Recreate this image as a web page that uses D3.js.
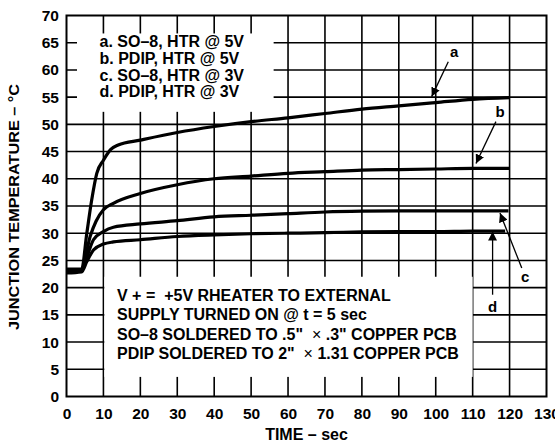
<!DOCTYPE html>
<html><head><meta charset="utf-8">
<script src="https://cdn.jsdelivr.net/npm/d3@7/dist/d3.min.js"></script>
<style>
body{margin:0;background:#fff;}
svg text{font-family:"Liberation Sans",Arial,sans-serif;font-weight:bold;fill:#000;}
</style></head>
<body><svg id="c" width="555" height="444"></svg>
<script>
// ---- data ----
const xTicks = [0,10,20,30,40,50,60,70,80,90,100,110,120,130];
const yTicks = [0,5,10,15,20,25,30,35,40,45,50,55,60,65,70];
const curveA = [[0,23.4],[4.1,23.4],[5.5,30],[6.8,36],[8.2,41],[10,43.4],[12,45.4],[14,46.2],[20,47.1],[30,48.5],[40,49.6],[50,50.5],[60,51.2],[70,52.0],[80,52.8],[90,53.4],[100,54.0],[110,54.6],[120,54.9]];
const curveB = [[0,23.2],[4.1,23.3],[6.4,29.4],[8,32.2],[10,34.3],[12.7,35.5],[20,37.3],[30,38.9],[40,40.0],[50,40.5],[60,41.0],[70,41.3],[80,41.6],[90,41.7],[100,41.8],[110,41.9],[120,41.9]];
const curveC = [[0,22.9],[4.1,23.1],[5.5,25.6],[7.3,28.8],[10,30.3],[12.7,31.1],[20,31.7],[30,32.3],[40,33.0],[50,33.3],[60,33.6],[70,33.9],[80,34.05],[90,34.1],[100,34.1],[110,34.1],[119.7,34.1]];
const curveD = [[0,22.7],[4.1,22.9],[5.5,24.8],[7.3,26.9],[10,28.0],[12.7,28.4],[20,28.8],[30,29.4],[40,29.7],[50,29.9],[60,30.0],[70,30.1],[80,30.25],[90,30.3],[100,30.3],[110,30.4],[118.8,30.4]];
const curveLabels = ["a","b","c","d"];
const labelPos = [[105.0,63.3],[117.4,52.3],[124.2,22.0],[115.4,16.6]];
const arrowFrom = [[103.4,61.5],[116.3,50.5],[123.3,23.6],[115.4,18.7]];
const arrowTo = [[98.9,55.1],[110.9,42.8],[117.4,33.7],[115.4,30.3]];
const legendLines = ["a. SO–8, HTR @ 5V","b. PDIP, HTR @ 5V","c. SO–8, HTR @ 3V","d. PDIP, HTR @ 3V"];
const noteLines = [["V + =  +5V RHEATER TO EXTERNAL"],["SUPPLY TURNED ON @ t = 5 sec"],["SO–8 SOLDERED TO .5\"  ","×"," .3\" COPPER PCB"],["PDIP SOLDERED TO 2\"  ","×"," 1.31 COPPER PCB"]];
const legendBox = {x0:2.6, x1:56.1, y0:52.3, y1:66.7};
const noteBox = {x0:10, x1:110, y0:3.6, y1:22.0};
const xTitle = "TIME – sec";
const yTitle = "JUNCTION TEMPERATURE – °C";

// ---- chart ----
const svg = d3.select("#c");
const x = d3.scaleLinear().domain([0,130]).range([66.5,546.5]);
const y = d3.scaleLinear().domain([0,70]).range([396.5,15.5]);

// grid
const g = svg.append("g");
g.selectAll(".vx").data(xTicks.slice(1,-1)).join("line")
  .attr("x1",d=>x(d)).attr("x2",d=>x(d)).attr("y1",y(0)).attr("y2",y(70))
  .attr("stroke","#000").attr("stroke-width",1.6);
g.selectAll(".hy").data(yTicks.slice(1,-1)).join("line")
  .attr("y1",d=>y(d)).attr("y2",d=>y(d)).attr("x1",x(0)).attr("x2",x(130))
  .attr("stroke","#000").attr("stroke-width",1.6);

// white boxes
[legendBox, noteBox].forEach(b=>{
  svg.append("rect").attr("x",x(b.x0)+0.9).attr("y",y(b.y1))
    .attr("width",x(b.x1)-x(b.x0)-0.9).attr("height",y(b.y0)-y(b.y1))
    .attr("fill","#fff");
});

// legend text
svg.append("g").selectAll("text").data(legendLines).join("text")
  .attr("x",99.5).attr("y",(d,i)=>47+i*16.8).attr("font-size","16px").text(d=>d);

// note text
const nt = svg.append("g").selectAll("text").data(noteLines).join("text")
  .attr("x",117).attr("y",(d,i)=>300.5+i*19.6).attr("font-size","16px").attr("xml:space","preserve");
nt.each(function(parts){
  const t = d3.select(this);
  parts.forEach(p=>{
    t.append("tspan").text(p).attr("font-weight", p==="×" ? "normal" : "bold");
  });
});

// curves
const line = d3.line().x(d=>x(d[0])).y(d=>y(d[1])).curve(d3.curveMonotoneX);
svg.append("g").selectAll("path").data([curveA,curveB,curveC,curveD]).join("path")
  .attr("d",line).attr("fill","none").attr("stroke","#000").attr("stroke-width",3.2)
  .attr("stroke-linejoin","round");

// arrows
const defs = svg.append("defs");
defs.append("marker").attr("id","ah").attr("viewBox","0 0 10 10").attr("refX",10).attr("refY",5)
  .attr("markerWidth",9).attr("markerHeight",9).attr("markerUnits","userSpaceOnUse").attr("orient","auto")
  .append("path").attr("d","M0,0 L10,5 L0,10 Z").attr("fill","#000");
svg.append("g").selectAll("line").data(arrowFrom).join("line")
  .attr("x1",d=>x(d[0])).attr("y1",d=>y(d[1]))
  .attr("x2",(d,i)=>x(arrowTo[i][0])).attr("y2",(d,i)=>y(arrowTo[i][1]))
  .attr("stroke","#000").attr("stroke-width",1.3).attr("marker-end","url(#ah)");
svg.append("g").selectAll("text").data(curveLabels).join("text")
  .attr("x",(d,i)=>x(labelPos[i][0])).attr("y",(d,i)=>y(labelPos[i][1])+5.5)
  .attr("text-anchor","middle").attr("font-size","15px").text(d=>d);

// frame
svg.append("rect").attr("x",x(0)).attr("y",y(70)).attr("width",x(130)-x(0)).attr("height",y(0)-y(70))
  .attr("fill","none").attr("stroke","#000").attr("stroke-width",2);

// axes labels
const xa = svg.append("g").attr("transform",`translate(0,${y(0)})`)
  .call(d3.axisBottom(x).tickValues(xTicks).tickSize(0).tickPadding(11).tickFormat(d3.format("d")));
xa.select(".domain").remove();
xa.selectAll("text").attr("font-size","15.5px").attr("font-family",null);
const ya = svg.append("g").attr("transform",`translate(${x(0)},0)`)
  .call(d3.axisLeft(y).tickValues(yTicks).tickSize(0).tickPadding(7.5).tickFormat(d3.format("d")));
ya.select(".domain").remove();
ya.selectAll("text").attr("font-size","15.5px").attr("font-family",null);

svg.append("text").attr("x",(x(0)+x(130))/2).attr("y",440).attr("text-anchor","middle")
  .attr("font-size","16px").text(xTitle);
svg.append("text").attr("transform",`translate(19,207) rotate(-90)`)
  .attr("text-anchor","middle").attr("font-size","15px")
  .attr("textLength",246).attr("lengthAdjust","spacingAndGlyphs").text(yTitle);
</script></body></html>
